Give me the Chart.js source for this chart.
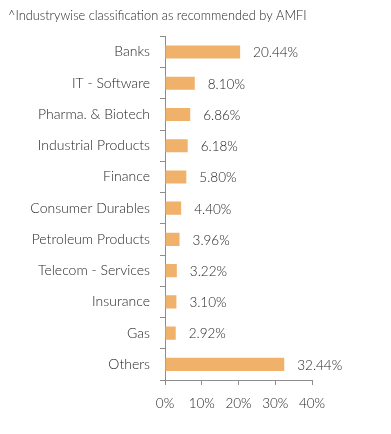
<!DOCTYPE html>
<html>
<head>
<meta charset="utf-8">
<script src="https://cdn.jsdelivr.net/npm/chart.js@4"></script>
<style>
  html, body { margin: 0; padding: 0; background: #fff; }
  #wrap { width: 391px; height: 434px; }
</style>
</head>
<body>
<div id="wrap"><canvas id="chart" width="391" height="434"></canvas></div>
<script>
const sectors = ["Banks", "IT - Software", "Pharma. & Biotech", "Industrial Products", "Finance",
  "Consumer Durables", "Petroleum Products", "Telecom - Services", "Insurance", "Gas", "Others"];
const weights = [20.44, 8.10, 6.86, 6.18, 5.80, 4.40, 3.96, 3.22, 3.10, 2.92, 32.44];
const xTicks = [0, 10, 20, 30, 40];

const barColor = "#F0B16B";
const textColor = "#262626";
const axisColor = "#8c8c8c";
const font = "Lato";

// labels at the end of each bar
const valueLabels = {
  id: "valueLabels",
  afterDatasetsDraw(chart) {
    const ctx = chart.ctx;
    const meta = chart.getDatasetMeta(0);
    ctx.save();
    ctx.font = "300 13.5px " + font;
    ctx.fillStyle = textColor;
    ctx.textBaseline = "middle";
    ctx.textAlign = "left";
    meta.data.forEach((bar, i) => {
      ctx.fillText(weights[i].toFixed(2) + "%", bar.x + 13, bar.y + 1);
    });
    ctx.restore();
  }
};

new Chart(document.getElementById("chart"), {
  type: "bar",
  data: {
    labels: sectors,
    datasets: [{
      data: weights,
      backgroundColor: barColor,
      barPercentage: 0.42,
      categoryPercentage: 1
    }]
  },
  options: {
    indexAxis: "y",
    responsive: false,
    animation: false,
    layout: { padding: { top: 0, right: 79, bottom: 14, left: 8 } },
    plugins: {
      legend: { display: false },
      tooltip: { enabled: false },
      title: {
        display: true,
        text: "^Industrywise classification as recommended by AMFI",
        align: "start",
        color: textColor,
        font: { family: font, size: 12.8, weight: 300 },
        padding: { top: 8, bottom: 13 }
      }
    },
    scales: {
      x: {
        min: 0,
        max: 40,
        afterBuildTicks: s => { s.ticks = xTicks.map(v => ({ value: v })); },
        afterFit: s => { s.height = 40; },
        ticks: {
          callback: v => v + "%",
          color: textColor,
          font: { family: font, size: 13.5, weight: 300 },
          padding: 11,
          maxRotation: 0
        },
        grid: { drawOnChartArea: false, tickLength: 5, color: axisColor },
        border: { color: axisColor, width: 1 }
      },
      y: {
        afterFit: s => { s.width = 157; },
        ticks: {
          color: textColor,
          font: { family: font, size: 14, weight: 300 },
          padding: 10
        },
        grid: { drawOnChartArea: false, offset: true, tickLength: 5, color: axisColor },
        border: { color: axisColor, width: 1 }
      }
    }
  },
  plugins: [valueLabels]
});
</script>
</body>
</html>
